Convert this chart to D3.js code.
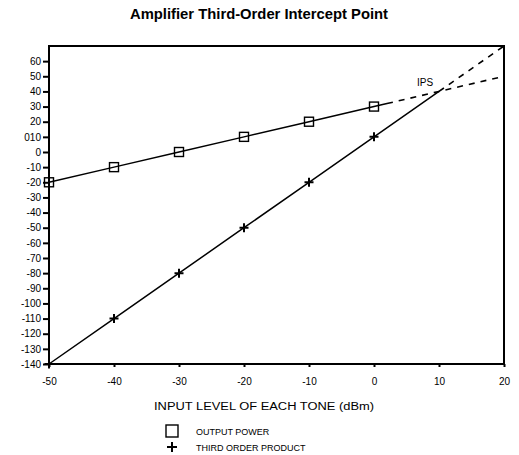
<!DOCTYPE html>
<html lang="en">
<head>
<meta charset="UTF-8">
<title>Amplifier Third-Order Intercept Point</title>
<script src="https://d3js.org/d3.v7.min.js"></script>
<style>
  body { margin: 0; background: #fff; }
  text { font-family: "Liberation Sans", Arial, sans-serif; fill: #000; }
</style>
</head>
<body>
<svg width="519" height="455"></svg>
<script>
// measured points
var inputLevel = [-50, -40, -30, -20, -10, 0];
var outputPower = [-20, -10, 0, 10, 20, 30];
var thirdOrder = [-140, -110, -80, -50, -20, 10];

// extrapolated (dashed) parts
var extInput = [2, 10, 20];
var outputExt = [32, 40, 50];
var thirdExtInput = [10, 20];
var thirdExt = [40, 70];

// intercept point
var ipsInput = 10, ipsOutput = 40;

var xTicks = [-50, -40, -30, -20, -10, 0, 10, 20];
var yTicks = [60, 50, 40, 30, 20, 10, 0, -10, -20, -30, -40, -50, -60, -70, -80, -90, -100, -110, -120, -130, -140];
var yTickLabels = ["60", "50", "40", "30", "20", "010", "0", "-10", "-20", "-30", "-40", "-50", "-60", "-70", "-80", "-90", "-100", "-110", "-120", "-130", "-140"];

var svg = d3.select("svg");
var plotL = 49, plotR = 504, plotT = 46, plotB = 364;

var x = d3.scaleLinear().domain([-50, 20]).range([plotL, plotR]);
var y = d3.scaleLinear().domain([-140, 70]).range([plotB, plotT]);

// title
svg.append("text")
    .attr("x", 259).attr("y", 19)
    .attr("text-anchor", "middle")
    .attr("font-size", "14px").attr("font-weight", "bold")
    .attr("textLength", 258).attr("lengthAdjust", "spacingAndGlyphs")
    .text("Amplifier Third-Order Intercept Point");

// axes
var yAxis = d3.axisLeft(y).tickValues(yTicks)
    .tickFormat((d, i) => yTickLabels[i]).tickSize(6).tickPadding(2);
var gy = svg.append("g").attr("transform", `translate(${plotL},0)`).call(yAxis);
gy.select(".domain").remove();
gy.selectAll("line").attr("stroke-width", 2);
gy.selectAll("text").attr("font-size", "10px").attr("font-family", "Liberation Sans, Arial, sans-serif");

var xAxis = d3.axisBottom(x).tickValues(xTicks).tickFormat(d => String(d))
    .tickSize(3).tickPadding(11);
var gx = svg.append("g").attr("transform", `translate(0,${plotB})`).call(xAxis);
gx.select(".domain").remove();
gx.selectAll("line").attr("stroke-width", 2);
gx.selectAll("text").attr("font-size", "10px").attr("font-family", "Liberation Sans, Arial, sans-serif");

// frame
svg.append("rect")
    .attr("x", plotL).attr("y", plotT)
    .attr("width", plotR - plotL).attr("height", plotB - plotT)
    .attr("fill", "none").attr("stroke", "#000").attr("stroke-width", 2);

var line = d3.line().x(d => x(d[0])).y(d => y(d[1]));

// solid lines
var outPts = inputLevel.map((v, i) => [v, outputPower[i]]);
var thirdPts = inputLevel.map((v, i) => [v, thirdOrder[i]]).concat([[ipsInput, ipsOutput]]);

svg.append("path").attr("d", line(outPts.concat([[extInput[0], outputExt[0]]])))
    .attr("fill", "none").attr("stroke", "#000").attr("stroke-width", 1.5);
svg.append("path").attr("d", line(thirdPts))
    .attr("fill", "none").attr("stroke", "#000").attr("stroke-width", 1.5);

// dashed extrapolation
svg.append("path").attr("d", line(extInput.map((v, i) => [v, outputExt[i]])))
    .attr("fill", "none").attr("stroke", "#000").attr("stroke-width", 1.6)
    .attr("stroke-dasharray", "6,6");
svg.append("path").attr("d", line(thirdExtInput.map((v, i) => [v, thirdExt[i]])))
    .attr("fill", "none").attr("stroke", "#000").attr("stroke-width", 1.6)
    .attr("stroke-dasharray", "6,6");

// markers
svg.selectAll(".sq").data(outPts).enter().append("rect")
    .attr("x", d => x(d[0]) - 4.5).attr("y", d => y(d[1]) - 4.5)
    .attr("width", 9).attr("height", 9)
    .attr("fill", "none").attr("stroke", "#000").attr("stroke-width", 1.4);

svg.selectAll(".pl").data(inputLevel.map((v, i) => [v, thirdOrder[i]])).enter().append("path")
    .attr("transform", d => `translate(${x(d[0])},${y(d[1])})`)
    .attr("d", "M-4.5,0H4.5M0,-4.5V4.5")
    .attr("stroke", "#000").attr("stroke-width", 2);

// IPS label
svg.append("text")
    .attr("x", x(ipsInput) - 22).attr("y", y(ipsOutput) - 5)
    .attr("font-size", "10px")
    .text("IPS");

// x axis title
svg.append("text")
    .attr("x", 264).attr("y", 410)
    .attr("text-anchor", "middle")
    .attr("font-size", "10px")
    .attr("textLength", 220).attr("lengthAdjust", "spacingAndGlyphs")
    .text("INPUT LEVEL OF EACH TONE (dBm)");

// legend
var legend = svg.append("g");
legend.append("rect")
    .attr("x", 166).attr("y", 425).attr("width", 12).attr("height", 12)
    .attr("fill", "none").attr("stroke", "#000").attr("stroke-width", 1.4);
legend.append("text").attr("x", 196).attr("y", 435).attr("font-size", "9px")
    .text("OUTPUT POWER");
legend.append("path")
    .attr("transform", "translate(172,447)")
    .attr("d", "M-5,0H5M0,-5V5")
    .attr("stroke", "#000").attr("stroke-width", 2);
legend.append("text").attr("x", 196).attr("y", 451).attr("font-size", "9px")
    .text("THIRD ORDER PRODUCT");
</script>
</body>
</html>
